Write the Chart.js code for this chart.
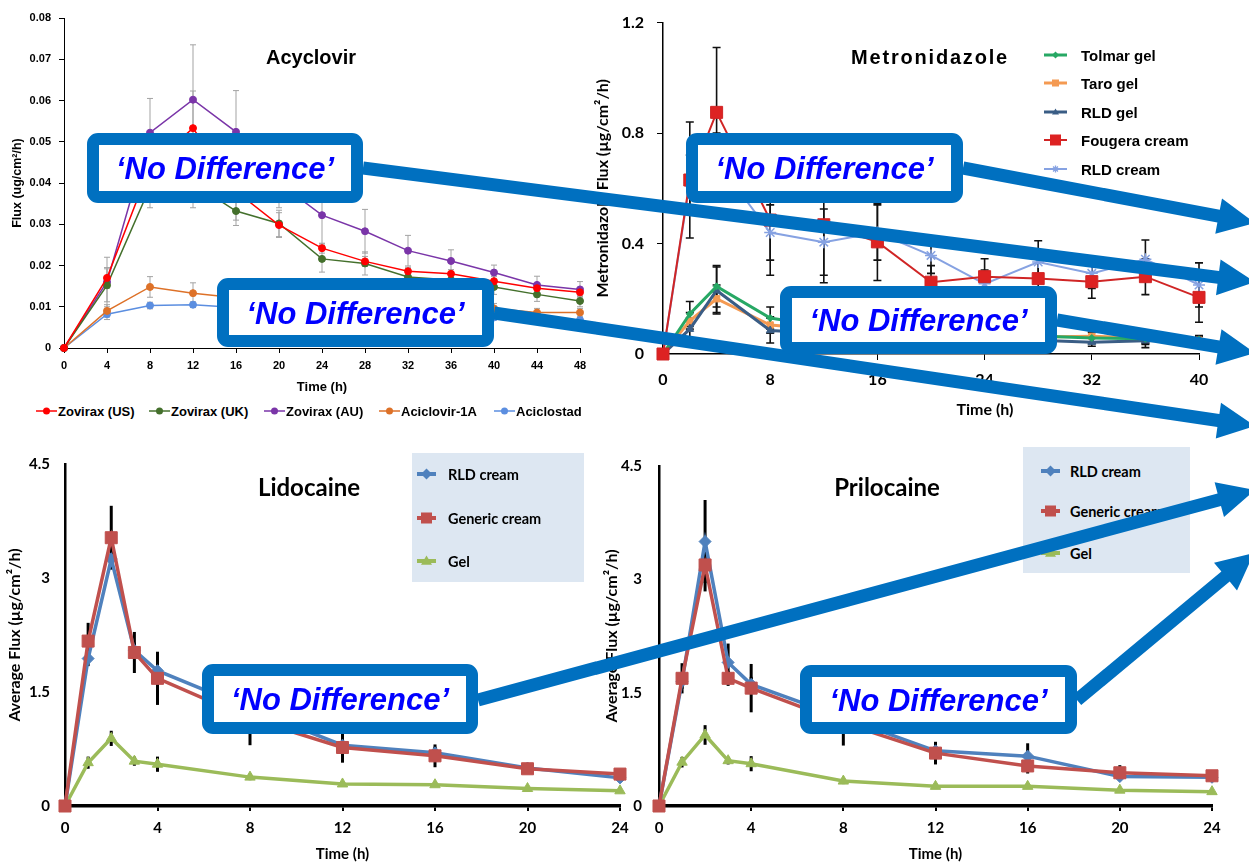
<!DOCTYPE html>
<html>
<head>
<meta charset="utf-8">
<script src="https://cdn.jsdelivr.net/npm/chart.js@4"></script>
<style>
  body { margin: 0; background: #fff; }
  #stage { position: relative; width: 1249px; height: 865px; overflow: hidden; background: #fff; }
  .panel { position: absolute; }
  .title { position: absolute; transform: translate(-50%, -50%); font-weight: bold; white-space: nowrap; color: #000; }
  .legend-box { position: absolute; background: #dde7f2; }
  .legend-item { position: absolute; display: flex; align-items: center; white-space: nowrap; font-weight: bold; color: #000; transform: translateY(-50%); }
  .legend-item svg { flex: none; }
  #overlay { position: absolute; left: 0; top: 0; }
</style>
</head>
<body>
<div id="stage">
  <div class="panel" style="left:0;top:0;width:600px;height:400px"><canvas id="acyChart"></canvas></div>
  <div class="panel" style="left:590px;top:0;width:659px;height:420px"><canvas id="metroChart"></canvas></div>
  <div class="panel" style="left:0;top:440px;width:640px;height:425px"><canvas id="lidoChart"></canvas></div>
  <div class="panel" style="left:600px;top:440px;width:649px;height:425px"><canvas id="priloChart"></canvas></div>

  <div class="title" style="left:311px;top:57px;font:bold 20px 'Liberation Sans',Arial,sans-serif">Acyclovir</div>
  <div class="title" style="left:930px;top:57px;font:bold 20px 'Liberation Sans',Arial,sans-serif;letter-spacing:1.8px">Metronidazole</div>
  <div class="title" style="left:985px;top:408px;font:bold 16px Lato,sans-serif">Time (h)</div>
  <div class="title" style="left:309px;top:486px;font:bold 24px Lato,sans-serif">Lidocaine</div>
  <div class="title" style="left:887px;top:486px;font:bold 24px Lato,sans-serif">Prilocaine</div>

  <div id="legends"></div>
  <svg id="overlay" width="1249" height="865"></svg>
</div>

<script>
// ---- Acyclovir data (flux, ug/cm2/h) ----
const acyTimes = [0, 4, 8, 12, 16, 20, 24, 28, 32, 36, 40, 44, 48];
const zoviraxUS = [0, 0.017, 0.044, 0.0533, 0.038, 0.0298, 0.0242, 0.021, 0.0186, 0.018, 0.0162, 0.0145, 0.0135];
const zoviraxUSErr = [0, 0.0025, 0.006, 0.009, 0.007, 0.003, 0.0012, 0.0012, 0.001, 0.001, 0.0011, 0.001, 0.001];
const zoviraxUK = [0, 0.0152, 0.039, 0.04, 0.0332, 0.0302, 0.0216, 0.0205, 0.0172, 0.0165, 0.0148, 0.013, 0.0114];
const zoviraxUKErr = [0, 0.004, 0.005, 0.006, 0.0035, 0.0032, 0.0032, 0.0028, 0.0022, 0.002, 0.0018, 0.0017, 0.0014];
const zoviraxAU = [0, 0.016, 0.0522, 0.0602, 0.0524, 0.04, 0.0322, 0.0283, 0.0236, 0.0211, 0.0183, 0.0153, 0.0142];
const zoviraxAUErr = [0, 0.006, 0.0083, 0.0133, 0.01, 0.006, 0.007, 0.0053, 0.0037, 0.0027, 0.0018, 0.0021, 0.0019];
const aciclovir1A = [0, 0.009, 0.0148, 0.0133, 0.0122, 0.0116, 0.011, 0.0105, 0.0102, 0.0099, 0.0096, 0.0086, 0.0086];
const aciclovir1AErr = [0, 0.0015, 0.0025, 0.0025, 0.002, 0.0018, 0.0016, 0.0014, 0.0013, 0.0012, 0.0012, 0.001, 0.001];
const aciclostad = [0, 0.0082, 0.0103, 0.0105, 0.0098, 0.0092, 0.0088, 0.0084, 0.008, 0.0077, 0.0074, 0.0072, 0.0068];
const aciclostadErr = [0, 0.0013, 0.0008, 0.0007, 0.0008, 0.0008, 0.0008, 0.0007, 0.0007, 0.0007, 0.0006, 0.0006, 0.0006];

// ---- Metronidazole data ----
const metroTimes = [0, 2, 4, 8, 12, 16, 20, 24, 28, 32, 36, 40];
const tolmarGel = [0, 0.145, 0.245, 0.13, 0.1, 0.085, 0.075, 0.07, 0.065, 0.058, 0.055, 0.052];
const tolmarGelErr = [0, 0.045, 0.075, 0.04, 0.03, 0.025, 0.02, 0.02, 0.02, 0.02, 0.02, 0.015];
const taroGel = [0, 0.12, 0.2, 0.105, 0.09, 0.08, 0.07, 0.065, 0.062, 0.064, 0.058, 0.05];
const taroGelErr = [0, 0.03, 0.05, 0.03, 0.025, 0.02, 0.02, 0.02, 0.02, 0.02, 0.02, 0.015];
const rldGel = [0, 0.09, 0.23, 0.085, 0.075, 0.07, 0.06, 0.055, 0.05, 0.043, 0.048, 0.05];
const rldGelErr = [0, 0.04, 0.085, 0.045, 0.03, 0.025, 0.02, 0.02, 0.02, 0.015, 0.025, 0.015];
const fougeraCream = [0, 0.63, 0.875, 0.485, 0.468, 0.406, 0.26, 0.28, 0.273, 0.262, 0.28, 0.205];
const fougeraCreamErr = [0, 0.21, 0.235, 0.2, 0.21, 0.14, 0.06, 0.065, 0.07, 0.06, 0.065, 0.09];
const rldCream = [0, 0.62, 0.7, 0.44, 0.405, 0.44, 0.357, 0.254, 0.333, 0.292, 0.343, 0.25];
const rldCreamErr = [0, 0.1, 0.1, 0.1, 0.12, 0.1, 0.065, 0.05, 0.077, 0.055, 0.07, 0.08];

// ---- Lidocaine / Prilocaine data ----
const laTimes = [0, 1, 2, 3, 4, 8, 12, 16, 20, 24];
const lidoRLD = [0, 1.94, 3.25, 2.05, 1.78, 1.28, 0.8, 0.7, 0.5, 0.37];
const lidoRLDErr = [0, 0.1, 0.1, 0.1, 0.1, 0.1, 0.1, 0.08, 0.05, 0.05];
const lidoGeneric = [0, 2.17, 3.53, 2.02, 1.68, 1.15, 0.77, 0.66, 0.49, 0.42];
const lidoGenericErr = [0, 0.24, 0.42, 0.27, 0.35, 0.35, 0.2, 0.15, 0.06, 0.06];
const lidoGel = [0, 0.57, 0.89, 0.59, 0.55, 0.38, 0.29, 0.28, 0.23, 0.2];
const lidoGelErr = [0, 0.08, 0.1, 0.06, 0.1, 0.04, 0.03, 0.03, 0.03, 0.03];
const priloRLD = [0, 1.65, 3.5, 1.9, 1.61, 1.17, 0.73, 0.66, 0.39, 0.38];
const priloRLDErr = [0, 0.1, 0.55, 0.25, 0.1, 0.1, 0.1, 0.17, 0.05, 0.05];
const priloGeneric = [0, 1.69, 3.19, 1.69, 1.56, 1.1, 0.7, 0.53, 0.44, 0.4];
const priloGenericErr = [0, 0.2, 0.35, 0.1, 0.32, 0.3, 0.15, 0.1, 0.1, 0.06];
const priloGel = [0, 0.58, 0.94, 0.6, 0.56, 0.33, 0.26, 0.26, 0.21, 0.19];
const priloGelErr = [0, 0.07, 0.13, 0.05, 0.1, 0.04, 0.03, 0.03, 0.03, 0.03];

const ARIAL = "'Liberation Sans', Arial, sans-serif";
const CALIBRI = "Lato, 'Noto Sans', sans-serif";

Chart.defaults.color = "#000";
Chart.defaults.font.family = ARIAL;

// Error bars drawn from each dataset's "errors" array
const errorBarPlugin = {
  id: "errorBars",
  beforeDatasetsDraw(chart, args, opts) {
    const { ctx, scales } = chart;
    ctx.save();
    ctx.strokeStyle = opts.color || "#000";
    ctx.lineWidth = opts.width || 1;
    chart.data.datasets.forEach((ds) => {
      if (!ds.errors) return;
      ds.data.forEach((pt, i) => {
        const e = ds.errors[i];
        if (!e) return;
        const px = scales.x.getPixelForValue(pt.x);
        const top = scales.y.getPixelForValue(pt.y + e);
        const bot = scales.y.getPixelForValue(Math.max(pt.y - e, 0));
        ctx.beginPath();
        ctx.moveTo(px, top);
        ctx.lineTo(px, bot);
        if (opts.cap) {
          ctx.moveTo(px - opts.cap, top);
          ctx.lineTo(px + opts.cap, top);
          ctx.moveTo(px - opts.cap, bot);
          ctx.lineTo(px + opts.cap, bot);
        }
        ctx.stroke();
      });
    });
    ctx.restore();
  },
};
Chart.register(errorBarPlugin);

function series(times, values, errors, s) {
  return {
    data: times.map((t, i) => ({ x: t, y: values[i] })),
    errors: errors,
    borderColor: s.color,
    backgroundColor: s.color,
    borderWidth: s.lw,
    pointStyle: s.shape,
    pointRadius: s.r,
    pointBackgroundColor: s.fill || s.color,
    pointBorderColor: s.color,
    pointBorderWidth: s.pbw || 1,
    tension: 0,
    clip: false,
  };
}

function axis(o) {
  return {
    type: "linear",
    min: o.min,
    max: o.max,
    ticks: { stepSize: o.step, font: o.tickFont, color: "#000", padding: o.tickPad },
    grid: {
      drawOnChartArea: false,
      drawTicks: o.tickLen > 0,
      tickLength: o.tickLen || 0,
      color: "#000",
      lineWidth: o.tickWidth || 1,
    },
    border: { color: "#000", width: o.borderWidth || 1 },
    title: o.title
      ? { display: true, text: o.title, font: o.titleFont, color: "#000", padding: o.titlePad }
      : { display: false },
    afterFit: (scale) => {
      if (scale.isHorizontal()) scale.height = o.size;
      else scale.width = o.size;
    },
  };
}

function makeChart(id, datasets, padding, errorBars, xAxis, yAxis) {
  return new Chart(document.getElementById(id), {
    type: "line",
    data: { datasets },
    options: {
      responsive: true,
      maintainAspectRatio: false,
      animation: false,
      layout: { padding },
      plugins: { legend: { display: false }, tooltip: { enabled: false }, errorBars },
      scales: { x: axis(xAxis), y: axis(yAxis) },
    },
  });
}

// ---- styles ----
const acyStyles = {
  us: { color: "#ff0000", lw: 1.5, shape: "circle", r: 3.5 },
  uk: { color: "#44702c", lw: 1.5, shape: "circle", r: 3.5 },
  au: { color: "#7a35a8", lw: 1.5, shape: "circle", r: 3.5 },
  a1a: { color: "#dd7128", lw: 1.5, shape: "circle", r: 3.5 },
  stad: { color: "#5b8ee0", lw: 1.5, shape: "circle", r: 3.5 },
};
const metroStyles = {
  tolmar: { color: "#27a864", lw: 3, shape: "rectRot", r: 3.5 },
  taro: { color: "#f49a52", lw: 3, shape: "rect", r: 4.5 },
  rldGel: { color: "#3a5d85", lw: 3, shape: "triangle", r: 4.5 },
  fougera: { color: "#d02525", lw: 2, shape: "rect", r: 8.5, fill: "#dd2222" },
  rldCream: { color: "#86a2e2", lw: 2, shape: "star", r: 6, pbw: 1.5 },
};
const laStyles = {
  rld: { color: "#4f81bd", lw: 3.5, shape: "rectRot", r: 6 },
  generic: { color: "#c0504d", lw: 3.5, shape: "rect", r: 8.5 },
  gel: { color: "#9bbb59", lw: 3.5, shape: "triangle", r: 6 },
};

// ---- Acyclovir ----
makeChart(
  "acyChart",
  [
    series(acyTimes, zoviraxUS, zoviraxUSErr, acyStyles.us),
    series(acyTimes, zoviraxUK, zoviraxUKErr, acyStyles.uk),
    series(acyTimes, zoviraxAU, zoviraxAUErr, acyStyles.au),
    series(acyTimes, aciclovir1A, aciclovir1AErr, acyStyles.a1a),
    series(acyTimes, aciclostad, aciclostadErr, acyStyles.stad),
  ],
  { top: 18, right: 20, bottom: 0, left: 0 },
  { color: "#a3a3a3", width: 1, cap: 3 },
  {
    min: 0, max: 48, step: 4, size: 52, tickLen: 5, tickPad: 6,
    tickFont: { size: 11, weight: "bold", family: ARIAL },
    title: "Time (h)", titleFont: { size: 13, weight: "bold", family: ARIAL }, titlePad: { top: 0, bottom: 5 },
  },
  {
    min: 0, max: 0.08, step: 0.01, size: 64, tickLen: 5, tickPad: 8,
    tickFont: { size: 11, weight: "bold", family: ARIAL },
    title: "Flux (ug/cm\u00b2/h)", titleFont: { size: 12.5, weight: "bold", family: ARIAL }, titlePad: { top: 10, bottom: 0 },
  }
);

// ---- Metronidazole ----
makeChart(
  "metroChart",
  [
    series(metroTimes, fougeraCream, fougeraCreamErr, metroStyles.fougera),
    series(metroTimes, rldCream, rldCreamErr, metroStyles.rldCream),
    series(metroTimes, tolmarGel, tolmarGelErr, metroStyles.tolmar),
    series(metroTimes, rldGel, rldGelErr, metroStyles.rldGel),
    series(metroTimes, taroGel, taroGelErr, metroStyles.taro),
  ],
  { top: 15, right: 50, bottom: 0, left: 0 },
  { color: "#111", width: 1.6, cap: 4 },
  {
    min: 0, max: 40, step: 8, size: 66, tickLen: 6, tickPad: 10, borderWidth: 1.5,
    tickFont: { size: 16, weight: "bold", family: CALIBRI },
  },
  {
    min: 0, max: 1.2, step: 0.4, size: 73, tickLen: 6, tickPad: 13, borderWidth: 1.5,
    tickFont: { size: 16, weight: "bold", family: CALIBRI },
    title: "Metronidazole Flux (\u00b5g/cm\u00b2/h)", titleFont: { size: 16, weight: "bold", family: CALIBRI },
    titlePad: { top: 3, bottom: 0 },
  }
);

// ---- Lidocaine & Prilocaine ----
function laChart(id, rld, rldErr, generic, genericErr, gel, gelErr, yWidth, yTitlePad, rightPad, yTickPad) {
  makeChart(
    id,
    [
      series(laTimes, generic, genericErr, laStyles.generic),
      series(laTimes, rld, rldErr, laStyles.rld),
      series(laTimes, gel, gelErr, laStyles.gel),
    ],
    { top: 17, right: rightPad, bottom: 0, left: 0 },
    { color: "#000", width: 3, cap: 0 },
    {
      min: 0, max: 24, step: 4, size: 59, tickLen: 5, tickWidth: 2, tickPad: 8, borderWidth: 3.5,
      tickFont: { size: 15, weight: "bold", family: CALIBRI },
      title: "Time (h)", titleFont: { size: 15, weight: "bold", family: CALIBRI }, titlePad: { top: 0, bottom: 2 },
    },
    {
      min: 0, max: 4.5, step: 1.5, size: yWidth, tickLen: 0, tickPad: yTickPad, borderWidth: 2.5,
      tickFont: { size: 15, weight: "bold", family: CALIBRI },
      title: "Average Flux (\u00b5g/cm\u00b2/h)", titleFont: { size: 16, weight: "bold", family: CALIBRI },
      titlePad: { top: yTitlePad, bottom: 0 },
    }
  );
}
laChart("lidoChart", lidoRLD, lidoRLDErr, lidoGeneric, lidoGenericErr, lidoGel, lidoGelErr, 65, 5.4, 20, 15);
laChart("priloChart", priloRLD, priloRLDErr, priloGeneric, priloGenericErr, priloGel, priloGelErr, 59, 2.4, 37, 17);

// ---- Legends (HTML) ----
function markerSvg(s, w, lw, r) {
  const cx = w / 2, cy = 9;
  let mark = "";
  if (s.shape === "circle") {
    mark = `<circle cx="${cx}" cy="${cy}" r="${r}" fill="${s.color}"/>`;
  } else if (s.shape === "rect") {
    mark = `<rect x="${cx - r}" y="${cy - r}" width="${2 * r}" height="${2 * r}" fill="${s.fill || s.color}"/>`;
  } else if (s.shape === "rectRot") {
    mark = `<polygon points="${cx},${cy - r} ${cx + r},${cy} ${cx},${cy + r} ${cx - r},${cy}" fill="${s.color}"/>`;
  } else if (s.shape === "triangle") {
    mark = `<polygon points="${cx},${cy - r} ${cx + r},${cy + r * 0.7} ${cx - r},${cy + r * 0.7}" fill="${s.color}"/>`;
  } else if (s.shape === "star") {
    mark = `<path d="M${cx - r} ${cy}H${cx + r}M${cx} ${cy - r}V${cy + r}M${cx - r * 0.7} ${cy - r * 0.7}L${cx + r * 0.7} ${cy + r * 0.7}M${cx - r * 0.7} ${cy + r * 0.7}L${cx + r * 0.7} ${cy - r * 0.7}" stroke="${s.color}" stroke-width="1.3"/>`;
  }
  return `<svg width="${w}" height="18"><line x1="0" y1="${cy}" x2="${w}" y2="${cy}" stroke="${s.color}" stroke-width="${lw}"/>${mark}</svg>`;
}

const legendHost = document.getElementById("legends");

function addLegendBox(x, y, w, h) {
  const box = document.createElement("div");
  box.className = "legend-box";
  box.style.cssText = `left:${x}px;top:${y}px;width:${w}px;height:${h}px`;
  legendHost.appendChild(box);
}

function addLegendItem(x, y, label, style, opts) {
  const item = document.createElement("div");
  item.className = "legend-item";
  item.style.cssText = `left:${x}px;top:${y}px;font:bold ${opts.size}px ${opts.family};letter-spacing:${opts.spacing || 0}px`;
  item.innerHTML = markerSvg(style, opts.w, opts.lw, opts.r) + `<span style="margin-left:${opts.gap}px">${label}</span>`;
  legendHost.appendChild(item);
}

const acyLegendLabels = ["Zovirax (US)", "Zovirax (UK)", "Zovirax (AU)", "Aciclovir-1A", "Aciclostad"];
const acyLegendStyles = [acyStyles.us, acyStyles.uk, acyStyles.au, acyStyles.a1a, acyStyles.stad];
const acyLegendX = [36, 149, 264, 379, 494];
acyLegendLabels.forEach((label, i) => {
  addLegendItem(acyLegendX[i], 411, label, acyLegendStyles[i], { size: 13, family: ARIAL, w: 21, lw: 1.5, r: 3.5, gap: 1 });
});

const metroLegendLabels = ["Tolmar gel", "Taro gel", "RLD gel", "Fougera cream", "RLD cream"];
const metroLegendStyles = [metroStyles.tolmar, metroStyles.taro, metroStyles.rldGel, metroStyles.fougera, metroStyles.rldCream];
const metroLegendY = [55, 83, 112, 140, 169];
metroLegendLabels.forEach((label, i) => {
  const s = metroLegendStyles[i];
  addLegendItem(1044, metroLegendY[i], label, s, {
    size: 15, family: ARIAL, spacing: 0, w: 23, lw: s.lw, r: s.shape === "rect" && s.r > 6 ? 5.5 : 3.5, gap: 14,
  });
});

const laLegendLabels = ["RLD cream", "Generic cream", "Gel"];
const laLegendStyles = [laStyles.rld, laStyles.generic, laStyles.gel];
addLegendBox(412, 453, 172, 129);
[474, 518, 561].forEach((y, i) => {
  addLegendItem(417, y, laLegendLabels[i], laLegendStyles[i], { size: 14.5, family: CALIBRI, w: 19, lw: 4, r: 5.5, gap: 12 });
});
addLegendBox(1023, 447, 167, 126);
[471, 511, 553].forEach((y, i) => {
  addLegendItem(1041, y, laLegendLabels[i], laLegendStyles[i], { size: 14.5, family: CALIBRI, w: 19, lw: 4, r: 5.5, gap: 10 });
});

// ---- 'No Difference' callouts and arrows ----
const calloutBoxes = [
  [87, 133, 276, 70],
  [217, 278, 277, 69],
  [686, 133, 277, 70],
  [780, 286, 277, 68],
  [202, 664, 276, 70],
  [800, 665, 277, 69],
];
const calloutArrows = [
  [363, 168, 1255, 282],
  [963, 168, 1255, 223],
  [1057, 320, 1255, 353],
  [494, 313, 1255, 426],
  [478, 700, 1255, 490],
  [1077, 700, 1254, 553],
];
const BLUE = "#0070c0";
const SHAFT = 13, HEAD_LEN = 37, HEAD_HALF = 18;

function arrowPoints(x1, y1, x2, y2) {
  const len = Math.hypot(x2 - x1, y2 - y1);
  const ux = (x2 - x1) / len, uy = (y2 - y1) / len;
  const nx = -uy, ny = ux;
  const bx = x2 - ux * HEAD_LEN, by = y2 - uy * HEAD_LEN;
  const s = SHAFT / 2, h = HEAD_HALF;
  const pts = [
    [x1 + nx * s, y1 + ny * s], [bx + nx * s, by + ny * s], [bx + nx * h, by + ny * h],
    [x2, y2],
    [bx - nx * h, by - ny * h], [bx - nx * s, by - ny * s], [x1 - nx * s, y1 - ny * s],
  ];
  return pts.map((p) => p[0].toFixed(1) + "," + p[1].toFixed(1)).join(" ");
}

let svg = "";
calloutArrows.forEach((a) => {
  svg += `<polygon points="${arrowPoints(a[0], a[1], a[2], a[3])}" fill="${BLUE}"/>`;
});
calloutBoxes.forEach((b) => {
  const [x, y, w, h] = b;
  svg += `<rect x="${x + 6}" y="${y + 6}" width="${w - 12}" height="${h - 12}" rx="5" fill="#fff" stroke="${BLUE}" stroke-width="12"/>`;
  svg += `<text x="${x + w / 2}" y="${y + h / 2 + 11}" text-anchor="middle" fill="#0000ff" font-family="'Liberation Sans', Arial, sans-serif" font-size="31" font-weight="bold" font-style="italic">\u2018No Difference\u2019</text>`;
});
document.getElementById("overlay").innerHTML = svg;
</script>
</body>
</html>
